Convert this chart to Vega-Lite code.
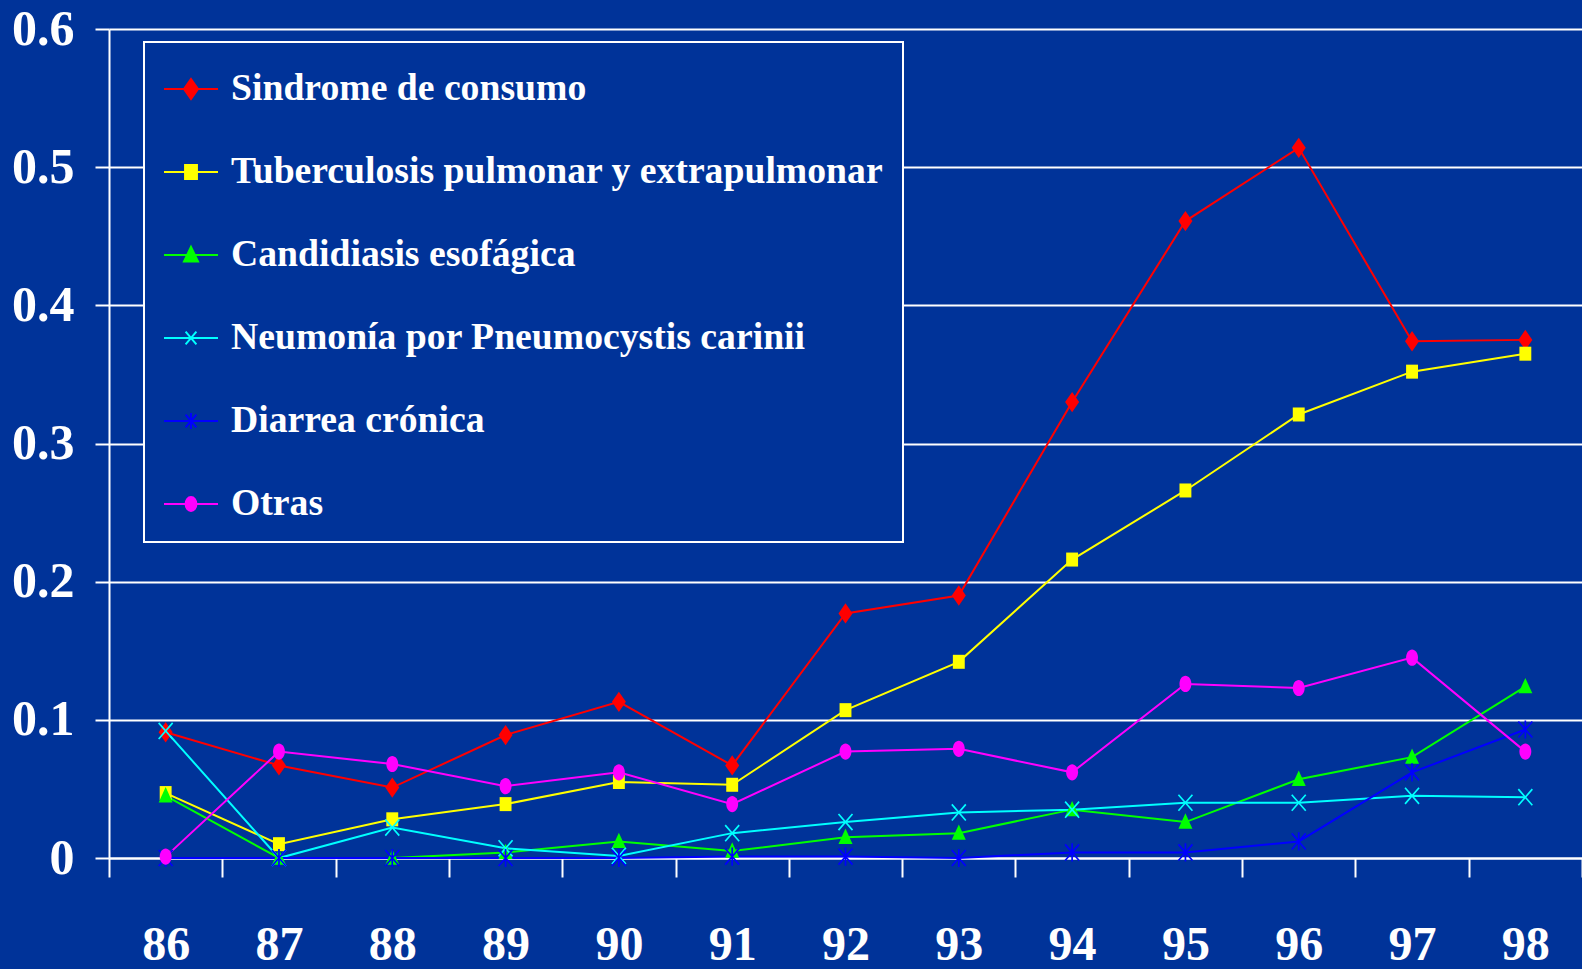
{
  "$schema": "https://vega.github.io/schema/vega-lite/v6.json",
  "width": 1473,
  "height": 829,
  "autosize": "none",
  "padding": {"left": 109, "top": 29, "right": 0, "bottom": 111},
  "background": "#003399",
  "data": {"values": [
    {"year": "86", "series": "Sindrome de consumo", "value": 0.091},
    {"year": "87", "series": "Sindrome de consumo", "value": 0.067},
    {"year": "88", "series": "Sindrome de consumo", "value": 0.051},
    {"year": "89", "series": "Sindrome de consumo", "value": 0.089},
    {"year": "90", "series": "Sindrome de consumo", "value": 0.113},
    {"year": "91", "series": "Sindrome de consumo", "value": 0.067},
    {"year": "92", "series": "Sindrome de consumo", "value": 0.177},
    {"year": "93", "series": "Sindrome de consumo", "value": 0.19},
    {"year": "94", "series": "Sindrome de consumo", "value": 0.33},
    {"year": "95", "series": "Sindrome de consumo", "value": 0.461},
    {"year": "96", "series": "Sindrome de consumo", "value": 0.514},
    {"year": "97", "series": "Sindrome de consumo", "value": 0.374},
    {"year": "98", "series": "Sindrome de consumo", "value": 0.375},
    {"year": "86", "series": "Tuberculosis pulmonar y extrapulmonar", "value": 0.047},
    {"year": "87", "series": "Tuberculosis pulmonar y extrapulmonar", "value": 0.01},
    {"year": "88", "series": "Tuberculosis pulmonar y extrapulmonar", "value": 0.028},
    {"year": "89", "series": "Tuberculosis pulmonar y extrapulmonar", "value": 0.039},
    {"year": "90", "series": "Tuberculosis pulmonar y extrapulmonar", "value": 0.055},
    {"year": "91", "series": "Tuberculosis pulmonar y extrapulmonar", "value": 0.053},
    {"year": "92", "series": "Tuberculosis pulmonar y extrapulmonar", "value": 0.107},
    {"year": "93", "series": "Tuberculosis pulmonar y extrapulmonar", "value": 0.142},
    {"year": "94", "series": "Tuberculosis pulmonar y extrapulmonar", "value": 0.216},
    {"year": "95", "series": "Tuberculosis pulmonar y extrapulmonar", "value": 0.266},
    {"year": "96", "series": "Tuberculosis pulmonar y extrapulmonar", "value": 0.321},
    {"year": "97", "series": "Tuberculosis pulmonar y extrapulmonar", "value": 0.352},
    {"year": "98", "series": "Tuberculosis pulmonar y extrapulmonar", "value": 0.365},
    {"year": "86", "series": "Candidiasis esofágica", "value": 0.045},
    {"year": "87", "series": "Candidiasis esofágica", "value": 0.0},
    {"year": "88", "series": "Candidiasis esofágica", "value": 0.0},
    {"year": "89", "series": "Candidiasis esofágica", "value": 0.004},
    {"year": "90", "series": "Candidiasis esofágica", "value": 0.012},
    {"year": "91", "series": "Candidiasis esofágica", "value": 0.005},
    {"year": "92", "series": "Candidiasis esofágica", "value": 0.015},
    {"year": "93", "series": "Candidiasis esofágica", "value": 0.018},
    {"year": "94", "series": "Candidiasis esofágica", "value": 0.035},
    {"year": "95", "series": "Candidiasis esofágica", "value": 0.026},
    {"year": "96", "series": "Candidiasis esofágica", "value": 0.057},
    {"year": "97", "series": "Candidiasis esofágica", "value": 0.073},
    {"year": "98", "series": "Candidiasis esofágica", "value": 0.124},
    {"year": "86", "series": "Neumonía por Pneumocystis carinii", "value": 0.092},
    {"year": "87", "series": "Neumonía por Pneumocystis carinii", "value": 0.0},
    {"year": "88", "series": "Neumonía por Pneumocystis carinii", "value": 0.022},
    {"year": "89", "series": "Neumonía por Pneumocystis carinii", "value": 0.007},
    {"year": "90", "series": "Neumonía por Pneumocystis carinii", "value": 0.0015},
    {"year": "91", "series": "Neumonía por Pneumocystis carinii", "value": 0.018},
    {"year": "92", "series": "Neumonía por Pneumocystis carinii", "value": 0.026},
    {"year": "93", "series": "Neumonía por Pneumocystis carinii", "value": 0.033},
    {"year": "94", "series": "Neumonía por Pneumocystis carinii", "value": 0.035},
    {"year": "95", "series": "Neumonía por Pneumocystis carinii", "value": 0.04},
    {"year": "96", "series": "Neumonía por Pneumocystis carinii", "value": 0.04},
    {"year": "97", "series": "Neumonía por Pneumocystis carinii", "value": 0.045},
    {"year": "98", "series": "Neumonía por Pneumocystis carinii", "value": 0.044},
    {"year": "86", "series": "Diarrea crónica", "value": 0.0},
    {"year": "87", "series": "Diarrea crónica", "value": 0.0},
    {"year": "88", "series": "Diarrea crónica", "value": 0.0},
    {"year": "89", "series": "Diarrea crónica", "value": 0.0},
    {"year": "90", "series": "Diarrea crónica", "value": 0.0},
    {"year": "91", "series": "Diarrea crónica", "value": 0.001},
    {"year": "92", "series": "Diarrea crónica", "value": 0.001},
    {"year": "93", "series": "Diarrea crónica", "value": 0.0},
    {"year": "94", "series": "Diarrea crónica", "value": 0.004},
    {"year": "95", "series": "Diarrea crónica", "value": 0.004},
    {"year": "96", "series": "Diarrea crónica", "value": 0.012},
    {"year": "97", "series": "Diarrea crónica", "value": 0.062},
    {"year": "98", "series": "Diarrea crónica", "value": 0.093},
    {"year": "86", "series": "Otras", "value": 0.001},
    {"year": "87", "series": "Otras", "value": 0.077},
    {"year": "88", "series": "Otras", "value": 0.068},
    {"year": "89", "series": "Otras", "value": 0.052},
    {"year": "90", "series": "Otras", "value": 0.062},
    {"year": "91", "series": "Otras", "value": 0.039},
    {"year": "92", "series": "Otras", "value": 0.077},
    {"year": "93", "series": "Otras", "value": 0.079},
    {"year": "94", "series": "Otras", "value": 0.062},
    {"year": "95", "series": "Otras", "value": 0.126},
    {"year": "96", "series": "Otras", "value": 0.123},
    {"year": "97", "series": "Otras", "value": 0.145},
    {"year": "98", "series": "Otras", "value": 0.077}
  ]},
  "encoding": {
    "x": {
      "field": "year", "type": "ordinal", "bandPosition": 0.5,
      "scale": {"type": "band", "paddingInner": 0, "paddingOuter": 0},
      "axis": {
        "title": null, "labelAngle": 0, "tickBand": "extent", "grid": false,
        "domainColor": "white", "domainWidth": 2,
        "tickColor": "white", "tickWidth": 2, "tickSize": 19,
        "labelColor": "white", "labelFont": "Liberation Serif", "labelFontWeight": "bold",
        "labelFontSize": 48, "labelPadding": 44
      }
    },
    "y": {
      "field": "value", "type": "quantitative",
      "scale": {"domain": [0, 0.6], "nice": false},
      "axis": {
        "title": null, "values": [0, 0.1, 0.2, 0.3, 0.4, 0.5, 0.6], "format": "~g",
        "grid": true, "gridColor": "white", "gridWidth": 2, "gridOpacity": 1,
        "domainColor": "white", "domainWidth": 2,
        "tickColor": "white", "tickWidth": 2, "tickSize": 14,
        "labelColor": "white", "labelFont": "Liberation Serif", "labelFontWeight": "bold",
        "labelFontSize": 50, "labelPadding": 21
      }
    }
  },
  "layer": [
    {
      "mark": {"type": "line", "strokeWidth": 2},
      "encoding": {
        "color": {
          "field": "series", "type": "nominal",
          "scale": {
            "domain": ["Sindrome de consumo", "Tuberculosis pulmonar y extrapulmonar", "Candidiasis esofágica", "Neumonía por Pneumocystis carinii", "Diarrea crónica", "Otras"],
            "range": ["#ff0000", "#ffff00", "#00ff00", "#00ffff", "#0000ff", "#ff00ff"]
          },
          "legend": {
            "encode": {
              "symbols": {"update": {
                "shape": {"signal": "['M-1,0L1,0M0,-0.37L0.26,0L0,0.37L-0.26,0Z','M-1,0L1,0M-0.22,-0.26L0.22,-0.26L0.22,0.26L-0.22,0.26Z','M-1,0L1,0M0,-0.3L0.26,0.24L-0.26,0.24Z','M-1,0L1,0M-0.2,-0.24L0.2,0.24M-0.2,0.24L0.2,-0.24','M-1,0L1,0M-0.2,-0.24L0.2,0.24M-0.2,0.24L0.2,-0.24M0,-0.3L0,0.3','M-1,0L1,0M-0.2,0A0.2,0.26 0 1,0 0.2,0A0.2,0.26 0 1,0 -0.2,0Z'][datum.index]"},
                "fill": {"signal": "scale('color', datum.value)"},
                "strokeWidth": {"value": 2},
                "opacity": {"value": 1}
              }},
              "legend": {"update": {"strokeWidth": {"value": 2}}}
            }
          }
        }
      }
    },
    {
      "transform": [{"filter": "datum.series === 'Sindrome de consumo'"}],
      "mark": {"type": "point", "filled": true, "opacity": 1, "size": 196, "color": "#ff0000", "shape": "M0,-1.45L1,0L0,1.45L-1,0Z"}
    },
    {
      "transform": [{"filter": "datum.series === 'Tuberculosis pulmonar y extrapulmonar'"}],
      "mark": {"type": "point", "filled": true, "opacity": 1, "size": 196, "color": "#ffff00", "shape": "M-0.85,-1L0.85,-1L0.85,1L-0.85,1Z"}
    },
    {
      "transform": [{"filter": "datum.series === 'Candidiasis esofágica'"}],
      "mark": {"type": "point", "filled": true, "opacity": 1, "size": 196, "color": "#00ff00", "shape": "M0,-1.25L1,0.95L-1,0.95Z"}
    },
    {
      "transform": [{"filter": "datum.series === 'Neumonía por Pneumocystis carinii'"}],
      "mark": {"type": "point", "filled": true, "opacity": 1, "size": 196, "color": "#00ffff", "shape": "M-1.09,-1.071L0.91,1.229L1.09,1.071L-0.91,-1.229ZM-0.91,1.229L1.09,-1.071L0.91,-1.229L-1.09,1.071Z"}
    },
    {
      "transform": [{"filter": "datum.series === 'Diarrea crónica'"}],
      "mark": {"type": "point", "filled": true, "opacity": 1, "size": 196, "color": "#0000ff", "shape": "M-1.09,-1.071L0.91,1.229L1.09,1.071L-0.91,-1.229ZM-0.91,1.229L1.09,-1.071L0.91,-1.229L-1.09,1.071ZM-0.12,-1.3L-0.12,1.3L0.12,1.3L0.12,-1.3Z"}
    },
    {
      "transform": [{"filter": "datum.series === 'Otras'"}],
      "mark": {"type": "point", "filled": true, "opacity": 1, "size": 196, "color": "#ff00ff", "shape": "M-0.85,0A0.85,1.15 0 1,0 0.85,0A0.85,1.15 0 1,0 -0.85,0Z"}
    }
  ],
  "config": {
    "view": {"stroke": null},
    "legend": {
      "orient": "none", "legendX": 35, "legendY": 13,
      "title": null,
      "labelFont": "Liberation Serif", "labelFontWeight": "bold", "labelFontSize": 37.7,
      "labelColor": "white", "labelLimit": 1000, "labelOffset": 12,
      "symbolSize": 2916, "symbolOpacity": 1, "symbolStrokeWidth": 2,
      "rowPadding": 36, "padding": 19,
      "fillColor": "#003399", "strokeColor": "white"
    }
  }
}
